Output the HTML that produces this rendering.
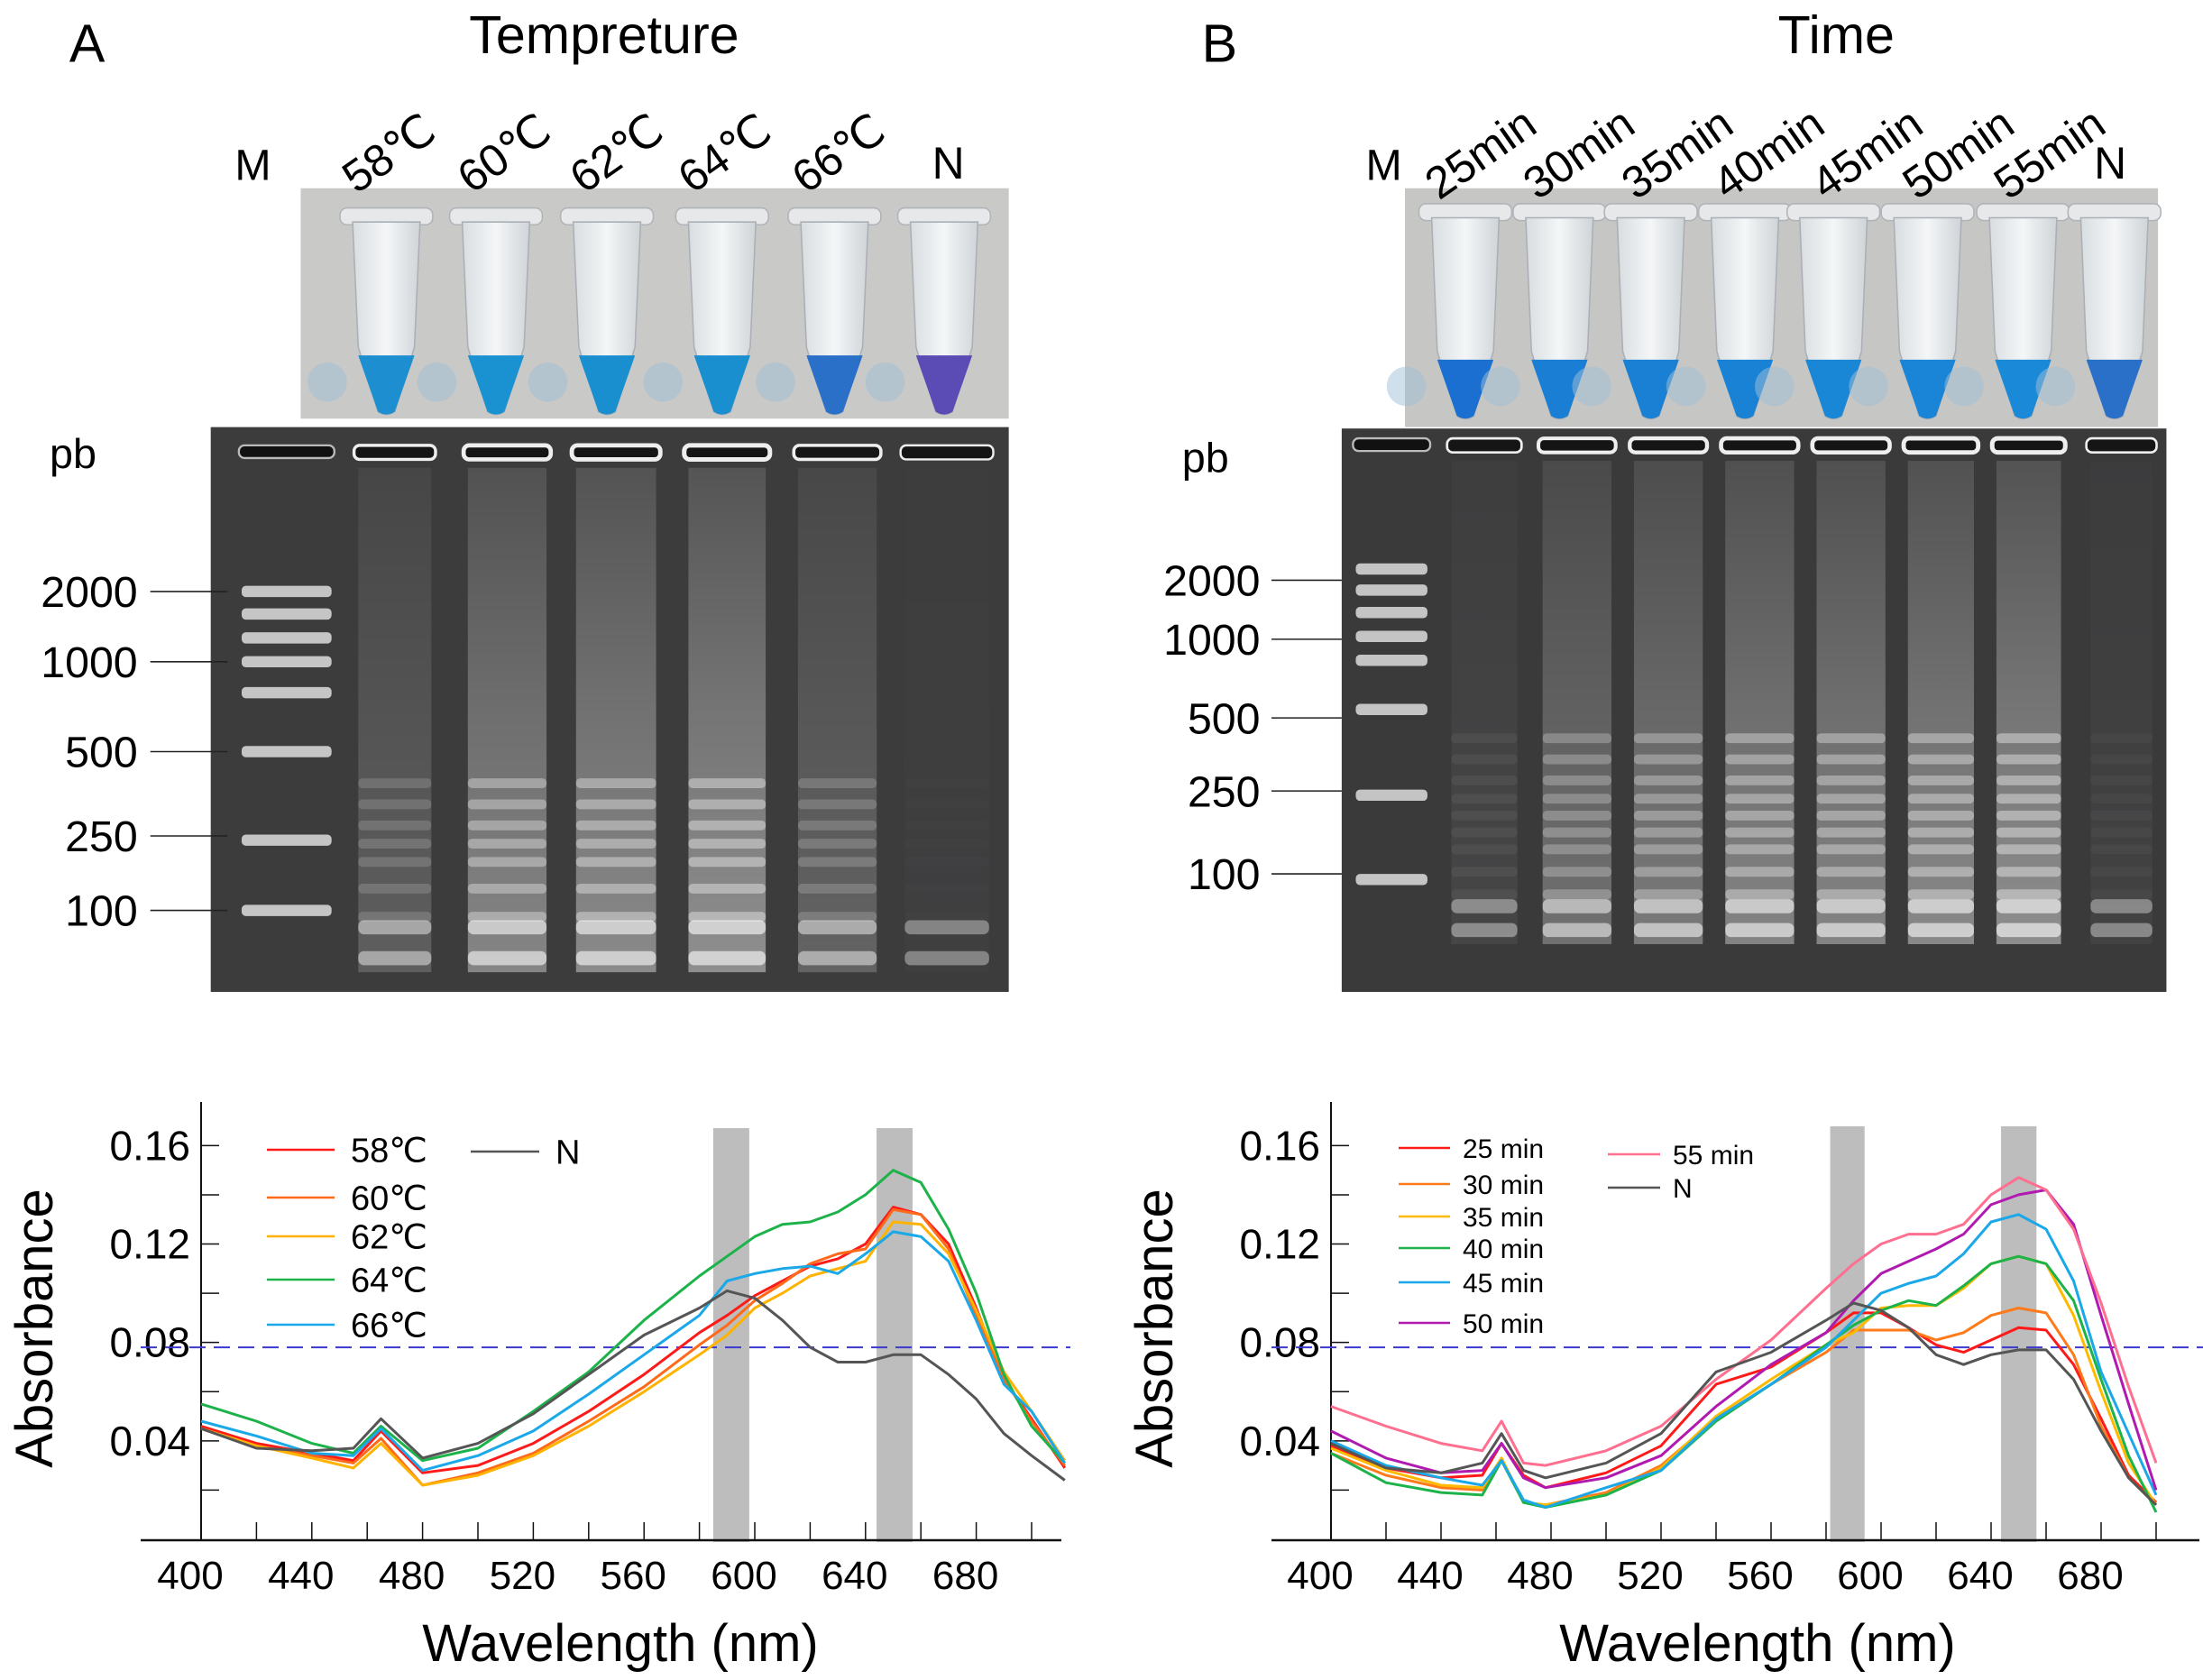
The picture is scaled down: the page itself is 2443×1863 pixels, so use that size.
<!DOCTYPE html>
<html><head><meta charset="utf-8"><style>
html,body{margin:0;padding:0;background:#fff;}
svg{display:block;font-family:"Liberation Sans",sans-serif;}
.n{font-family:"Liberation Sans Narrow","Liberation Sans",sans-serif;}
</style></head><body>
<svg id="fig" width="2443" height="1863" viewBox="0 0 2443 1863" xmlns="http://www.w3.org/2000/svg">
<defs>
<linearGradient id="tubeg" x1="0" x2="1"><stop offset="0" stop-color="#d8dde0"/><stop offset="0.5" stop-color="#f4f6f7"/><stop offset="1" stop-color="#cfd4d8"/></linearGradient>
<linearGradient id="smear" x1="0" y1="0" x2="0" y2="1"><stop offset="0" stop-color="#fff" stop-opacity="0.15"/><stop offset="0.5" stop-color="#fff" stop-opacity="0.35"/><stop offset="1" stop-color="#fff" stop-opacity="0.5"/></linearGradient>
</defs>
<g id="top" transform="scale(1.558)">
  <text x="62" y="44" font-size="38" text-anchor="middle">A</text>
  <text x="430" y="38" font-size="38" text-anchor="middle">Tempreture</text>
  <text x="868" y="44" font-size="38" text-anchor="middle">B</text>
  <text x="1307" y="38" font-size="38" text-anchor="middle">Time</text>
  <rect x="214" y="134" width="504" height="164" fill="#c9c9c7"/>
  <rect x="1000" y="134" width="536" height="170" fill="#c6c6c4"/>
  <rect x="150" y="304" width="568" height="402" fill="#3c3c3d"/>
  <rect x="955" y="305" width="587" height="401" fill="#3a3a3b"/>
  <g id="topdyn"></g>
  <text x="52" y="333" font-size="30" text-anchor="middle">pb</text>
  <text x="858" y="336" font-size="30" text-anchor="middle">pb</text>
</g>
<g id="charts"></g>
</svg>
<script>
const laneLabelsA=["58℃","60℃","62℃","64℃","66℃","N"];
const laneXA=[283,365,445,522,603,675];
const laneLabelsB=["25min","30min","35min","40min","45min","50min","55min","N"];
const laneXB=[1060,1130,1200,1265,1335,1400,1465,1502];
const markersA=["2000","1000","500","250","100"];
const markerYA=[421,471,535,595,648];
const markersB=["2000","1000","500","250","100"];
const markerYB=[413,455,511,563,622];
const tubeXA=[275,353,432,514,594,672];
const tubeXB=[1043,1110,1175,1242,1305,1372,1440,1505];
const gelLanesA=[[252,310],[330,392],[407,470],[487,548],[565,627],[641,707]];
const gelIntA=[0.35,0.75,0.8,0.85,0.4,0.03];
const gelLanesB=[[1030,1083],[1095,1150],[1160,1215],[1225,1280],[1290,1345],[1355,1408],[1418,1470],[1485,1535]];
const gelIntB=[0.12,0.55,0.65,0.75,0.75,0.8,0.85,0.08];
const ladderA=[421,437,454,471,493,535,598,648];
const ladderB=[405,420,436,453,470,505,566,626];
const NS="http://www.w3.org/2000/svg";
function mk(tag,attrs,parent){const e=document.createElementNS(NS,tag);for(const k in attrs)e.setAttribute(k,attrs[k]);parent.appendChild(e);return e;}
const topg=document.getElementById('topdyn');
function label(x,y,t,rot,size,name){
  const e=mk('text',{x:x,y:y,'font-size':size,'text-anchor':'middle',transform:rot?`rotate(${rot} ${x} ${y})`:''},topg);
  e.textContent=t;
  
  
}
label(180,128,"M",0,31,'lane-label-a-m');
laneLabelsA.forEach((t,i)=>label(laneXA[i],i==5?127:118,t,i==5?0:-35,32,'lane-label-a'));
label(985,128,"M",0,31,'lane-label-b-m');
laneLabelsB.forEach((t,i)=>label(laneXB[i],i==7?127:118,t,i==7?0:-35,32,'lane-label-b'));
function markers(names,ys,tx,l1,l2,side){
  names.forEach((t,i)=>{
    const e=mk('text',{x:tx,y:ys[i]+11,'font-size':31,'text-anchor':'end'},topg);e.textContent=t;
    
    
    const l=mk('line',{x1:l1,x2:l2,y1:ys[i],y2:ys[i],stroke:'#222','stroke-width':1},topg);
    
    
  });
}
markers(markersA,markerYA,98,107,162,'a');
markers(markersB,markerYB,897,905,955,'b');
function tubes(xs,top,bot,colors){
  xs.forEach((cx,i)=>{
    const g=mk('g',{},topg);
    
    
    mk('rect',{x:cx-33,y:top,width:66,height:12,rx:5,fill:'#e6e8ea',stroke:'#b0b4b8','stroke-width':1},g);
    mk('path',{d:`M${cx-24},${top+10} L${cx+24},${top+10} L${cx+20},${bot-50} L${cx+6},${bot-4} Q${cx},${bot} ${cx-6},${bot-4} L${cx-20},${bot-50} Z`,fill:'url(#tubeg)',stroke:'#aab0b5','stroke-width':1},g);
    mk('path',{d:`M${cx-20},${bot-44} L${cx+20},${bot-44} L${cx+6},${bot-4} Q${cx},${bot} ${cx-6},${bot-4} Z`,fill:colors[i]},g);
    mk('ellipse',{cx:cx-42,cy:bot-25,rx:14,ry:14,fill:'#9fc0d8',opacity:0.5},g);
  });
}
tubes(tubeXA,148,297,["#1d8fd0","#1a92d2","#1a8fd0","#1a8fd0","#2a6fc8","#5a4bb5"]);
tubes(tubeXB,145,300,["#1b6fd0","#1a7fd4","#1a80d4","#1a82d4","#1a86d6","#1a84d6","#1a8ad8","#2a70c8"]);
function gel(lanes,ints,wellY,ladderX,ladder,bandYs,bottomYs,side){
  mk('rect',{x:ladderX[0],y:wellY-6,width:ladderX[1]-ladderX[0],height:9,rx:4,fill:'#111',stroke:'#bbb','stroke-width':1.5},topg);
  ladder.forEach(y=>{const b=mk('rect',{x:ladderX[0]+2,y:y-4,width:ladderX[1]-ladderX[0]-4,height:8,rx:3,fill:'#ddd',opacity:0.85},topg);
    
    });
  lanes.forEach((l,i)=>{
    const w=l[1]-l[0],a=ints[i];
    const g=mk('g',{},topg);
    
    
    mk('rect',{x:l[0],y:wellY-6,width:w,height:10,rx:4,fill:'#151515',stroke:'#eee','stroke-width':1.5+a*2},g);
    mk('rect',{x:l[0]+3,y:wellY+10,width:w-6,height:bottomYs[1]-wellY,fill:'url(#smear)',opacity:a},g);
    bandYs.forEach(y=>mk('rect',{x:l[0]+3,y:y-3,width:w-6,height:7,rx:3,fill:'#fff',opacity:0.45*a},g));
    bottomYs.forEach(y=>mk('rect',{x:l[0]+3,y:y-5,width:w-6,height:10,rx:4,fill:'#fff',opacity:0.35+0.3*a},g));
  });
}
gel(gelLanesA,gelIntA,323,[170,238],ladderA,[557,572,587,600,613,632,652],[660,682],'a');
gel(gelLanesB,gelIntB,318,[963,1018],ladderB,[525,540,555,568,580,592,604,620,636],[645,662],'b');

const wavesA=[400,420,440,455,465,480,500,520,540,560,580,590,600,610,620,630,640,650,660,670,680,690,700,712];
const sA58=[.046,.039,.035,.032,.044,.027,.030,.039,.052,.067,.084,.091,.099,.105,.111,.114,.120,.135,.132,.120,.094,.065,.049,.029];
const sA60=[.045,.038,.034,.031,.041,.022,.027,.035,.048,.062,.079,.087,.097,.104,.112,.116,.118,.134,.132,.118,.091,.065,.048,.030];
const sA62=[.045,.038,.033,.029,.039,.022,.026,.034,.046,.060,.075,.083,.094,.100,.107,.110,.113,.129,.128,.116,.093,.068,.052,.032];
const sA64=[.055,.048,.039,.035,.046,.032,.037,.052,.068,.089,.107,.115,.123,.128,.129,.133,.140,.150,.145,.126,.100,.067,.046,.031];
const sA66=[.048,.042,.035,.034,.045,.028,.034,.044,.059,.075,.091,.105,.108,.110,.111,.108,.116,.125,.123,.113,.089,.063,.052,.031];
const sAN=[.045,.037,.036,.037,.049,.033,.039,.051,.067,.083,.094,.101,.098,.089,.078,.072,.072,.075,.075,.067,.057,.043,.034,.024];
const namesA=["58℃","60℃","62℃","64℃","66℃","N"];
const colorsA=["#ff1a1a","#ff6a1a","#ffb300","#1db34a","#1aa8e8","#555"];

const wavesB=[400,420,440,455,462,470,478,500,520,540,560,580,590,600,610,620,630,640,650,660,670,680,690,700];
const sB25=[.038,.029,.025,.026,.039,.026,.021,.027,.038,.063,.070,.084,.092,.092,.086,.079,.076,.081,.086,.085,.071,.049,.026,.015];
const sB30=[.035,.026,.021,.020,.033,.015,.014,.019,.030,.049,.063,.076,.085,.085,.085,.081,.084,.091,.094,.092,.075,.046,.025,.014];
const sB35=[.037,.028,.022,.021,.033,.015,.014,.018,.029,.050,.065,.079,.084,.094,.095,.095,.102,.112,.115,.112,.091,.060,.031,.014];
const sB40=[.035,.023,.019,.018,.032,.015,.013,.018,.028,.048,.063,.079,.087,.093,.097,.095,.103,.112,.115,.112,.097,.065,.034,.011];
const sB45=[.040,.030,.025,.022,.032,.016,.013,.021,.028,.049,.063,.078,.089,.100,.104,.107,.116,.129,.132,.126,.105,.068,.043,.018];
const sB50=[.044,.033,.027,.028,.039,.025,.021,.025,.034,.054,.071,.084,.097,.108,.113,.118,.124,.136,.140,.142,.128,.091,.055,.020];
const sB55=[.054,.046,.039,.036,.048,.031,.030,.036,.046,.065,.081,.102,.112,.120,.124,.124,.128,.140,.147,.142,.126,.096,.062,.031];
const sBN=[.039,.029,.027,.031,.043,.028,.025,.031,.043,.068,.076,.089,.096,.093,.086,.075,.071,.075,.077,.077,.065,.044,.025,.014];
const namesB=["25 min","30 min","35 min","40 min","45 min","50 min","55 min","N"];
const colorsB=["#ff1a1a","#ff7a1a","#ffba00","#1db34a","#1aa8e8","#b01ab0","#ff6f8f","#555"];

const yTicks=[0.04,0.08,0.12,0.16];
const yTickLabels=["0.04","0.08","0.12","0.16"];
const yMinor=[0.02,0.06,0.10,0.14];
const xTicks=[400,440,480,520,560,600,640,680];
const xTickLabels=["400","440","480","520","560","600","640","680"];
const threshold=0.078;

const cg=document.getElementById('charts');
function yS(v){return 1707-v*2729;}
function drawChart(o){
  const xS=nm=>o.x0+(nm-400)*o.k;
  const g=mk('g',{},cg);
  
  
  o.bands.forEach(b=>{const r=mk('rect',{x:xS(b[0]),y:o.bandTop,width:xS(b[1])-xS(b[0]),height:1710-o.bandTop,fill:'#bdbdbd'},g);
    
    });
  const ya=mk('line',{x1:o.x0,x2:o.x0,y1:1222,y2:1708,stroke:'#111','stroke-width':2},g);
  
  
  const xa=mk('line',{x1:o.axL,x2:o.axR,y1:1708,y2:1708,stroke:'#111','stroke-width':2.5},g);
  
  
  yTicks.concat(yMinor).forEach(v=>mk('line',{x1:o.x0,x2:o.x0+20,y1:yS(v),y2:yS(v),stroke:'#111','stroke-width':1.5},g));
  yTicks.forEach((v,i)=>{const t=mk('text',{x:o.x0-12,y:yS(v)+16,'font-size':46,'text-anchor':'end',class:'n'},g);t.textContent=yTickLabels[i];
    
    });
  for(let nm=400;nm<=o.maxTick;nm+=20)mk('line',{x1:xS(nm),x2:xS(nm),y1:1708,y2:1688,stroke:'#111','stroke-width':1.5},g);
  xTicks.forEach((v,i)=>{const t=mk('text',{x:xS(v)-12,y:1762,'font-size':44,'text-anchor':'middle',class:'n'},g);t.textContent=xTickLabels[i];
    
    });
  const dl=mk('line',{x1:o.axL,x2:o.dashR,y1:yS(threshold),y2:yS(threshold),stroke:'#3a3ad0','stroke-width':2,'stroke-dasharray':'18 9'},g);
  
  
  o.series.forEach((s,i)=>{
    const d=s.map((v,j)=>(j?'L':'M')+xS(o.waves[j]).toFixed(1)+','+yS(v).toFixed(1)).join(' ');
    const p=mk('path',{d:d,fill:'none',stroke:o.colors[i],'stroke-width':3,'stroke-linejoin':'round'},g);
    
    
  });
  o.legend.forEach((L,i)=>{
    const lg=mk('g',{},g);
    
    
    mk('line',{x1:L[0],x2:L[1],y1:L[2],y2:L[2],stroke:o.colors[i],'stroke-width':2.5},lg);
    const t=mk('text',{x:L[1]+o.legGap,y:L[2]+o.legFont*0.36,'font-size':o.legFont,class:'n'},lg);t.textContent=o.names[i];
  });
  const yt=mk('text',{x:o.yTitleX,y:1473,'font-size':58,'text-anchor':'middle',transform:`rotate(-90 ${o.yTitleX} 1473)`},g);
  yt.textContent='Absorbance';
  
  
  const xt=mk('text',{x:o.xTitleX,y:1842,'font-size':58,'text-anchor':'middle'},g);
  xt.textContent='Wavelength (nm)';
  
  
}
drawChart({id:'a',x0:223,k:3.07,axL:156,axR:1177,dashR:1187,maxTick:700,bandTop:1251,bands:[[585,598],[644,657]],
  waves:wavesA,series:[sA58,sA60,sA62,sA64,sA66,sAN],colors:colorsA,names:namesA,
  legend:[[296,371,1275],[296,371,1328],[296,371,1371],[296,371,1419],[296,371,1469],[522,598,1277]],legGap:18,legFont:38,
  yTitleX:58,xTitleX:688});
drawChart({id:'b',x0:1476,k:3.05,axL:1410,axR:2439,dashR:2443,maxTick:700,bandTop:1249,bands:[[581.5,594],[643.6,656.5]],
  waves:wavesB,series:[sB25,sB30,sB35,sB40,sB45,sB50,sB55,sBN],colors:colorsB,names:namesB,
  legend:[[1551,1608,1273],[1551,1608,1313],[1551,1608,1349],[1551,1608,1384],[1551,1608,1422],[1551,1608,1467],[1783,1841,1280],[1783,1841,1317]],legGap:14,legFont:30,
  yTitleX:1300,xTitleX:1949});
</script>
</body></html>
